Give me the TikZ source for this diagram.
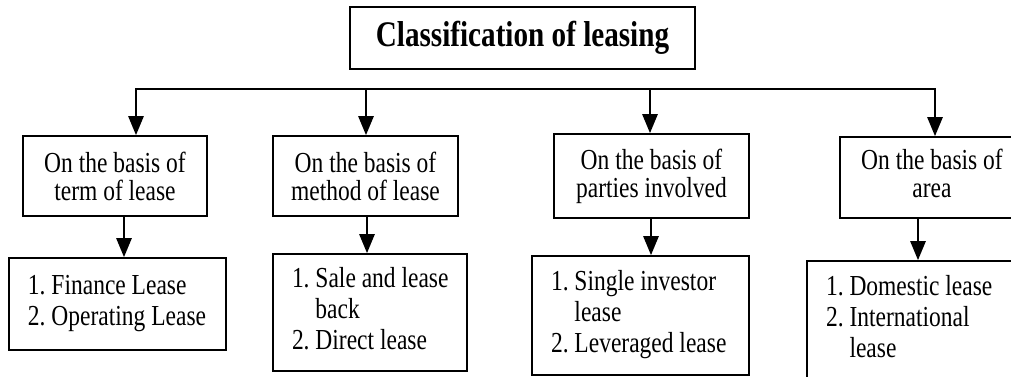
\documentclass[tikz,border=0pt]{standalone}
\usepackage{fontspec}
\setmainfont{Liberation Serif}[FakeStretch=0.81]
\usetikzlibrary{arrows.meta}
% left-aligned list set 19pt in from the left border of a box of width #1
\newcommand\leaselist[2]{\makebox[#1][l]{\hspace*{19pt}\begin{tabular}{@{}l@{}}#2\end{tabular}}}
\begin{document}
\frenchspacing
\begin{tikzpicture}[x=1pt,y=-1pt,
  headbox/.style={draw, line width=1.6pt, rectangle, inner sep=0pt, align=center,
    font=\bfseries\fontsize{36}{40}\selectfont},
  basisbox/.style={draw, line width=1.6pt, rectangle, inner sep=0pt, align=center,
    font=\fontsize{29}{28}\selectfont},
  listbox/.style={draw, line width=1.6pt, rectangle, inner sep=0pt,
    font=\fontsize{29}{31}\selectfont},
  conn/.style={line width=2.6pt},
  arr/.style={line width=2.6pt, -{Triangle[length=19pt,width=15pt]}}]
\useasboundingbox (0,0) rectangle (1011,377);
\clip (0,0) rectangle (1011,377);

% title
\node[headbox, minimum width=345pt, minimum height=62pt] (top) at (522.5,38)
  {Classification of leasing};

% bases of classification
\node[basisbox, minimum width=184pt, minimum height=80pt] (b1) at (115,176)
  {On the basis of\\term of lease};
\node[basisbox, minimum width=185pt, minimum height=80pt] (b2) at (365.5,176)
  {On the basis of\\method of lease};
\node[basisbox, minimum width=195pt, minimum height=84pt] (b3) at (651.5,176)
  {On the basis of\\parties involved};
\node[basisbox, minimum width=220pt, minimum height=81pt] (b4) at (950,177.5)
  {\begin{tabular}{@{}c@{}}On the basis of\\area\end{tabular}\hspace*{36pt}};

% types of lease
\node[listbox, minimum width=217pt, minimum height=92pt] (l1) at (117.5,304)
  {\leaselist{217pt}{1. Finance Lease\\2. Operating Lease}};
\node[listbox, minimum width=194pt, minimum height=117pt] (l2) at (370,312.5)
  {\leaselist{194pt}{1. Sale and lease\\\phantom{1.}\ back\\2. Direct lease}};
\node[listbox, minimum width=217pt, minimum height=119pt] (l3) at (640.5,315.5)
  {\leaselist{217pt}{1. Single investor\\\phantom{1.}\ lease\\2. Leveraged lease}};
\node[listbox, minimum width=240pt, minimum height=118pt] (l4) at (927,320)
  {\leaselist{240pt}{1. Domestic lease\\2. International\\\phantom{2.}\ lease}};

% distribution bar
\coordinate (t1) at (136,89);
\coordinate (t2) at (366,89);
\coordinate (t3) at (650,89);
\coordinate (t4) at (935,89);
\draw[conn, line cap=rect] (t1) -- (t4);
\draw[arr] (t1) -- (t1 |- b1.north);
\draw[arr] (t2) -- (t2 |- b2.north);
\draw[arr] (t3) -- (t3 |- b3.north);
\draw[arr] (t4) -- (t4 |- b4.north);

% basis to types
\coordinate (d1) at (124,0);
\coordinate (d2) at (367,0);
\coordinate (d3) at (651,0);
\coordinate (d4) at (918,0);
\draw[arr] (b1.south -| d1) -- (l1.north -| d1);
\draw[arr] (b2.south -| d2) -- (l2.north -| d2);
\draw[arr] (b3.south -| d3) -- (l3.north -| d3);
\draw[arr] (b4.south -| d4) -- (l4.north -| d4);
\end{tikzpicture}
\end{document}
